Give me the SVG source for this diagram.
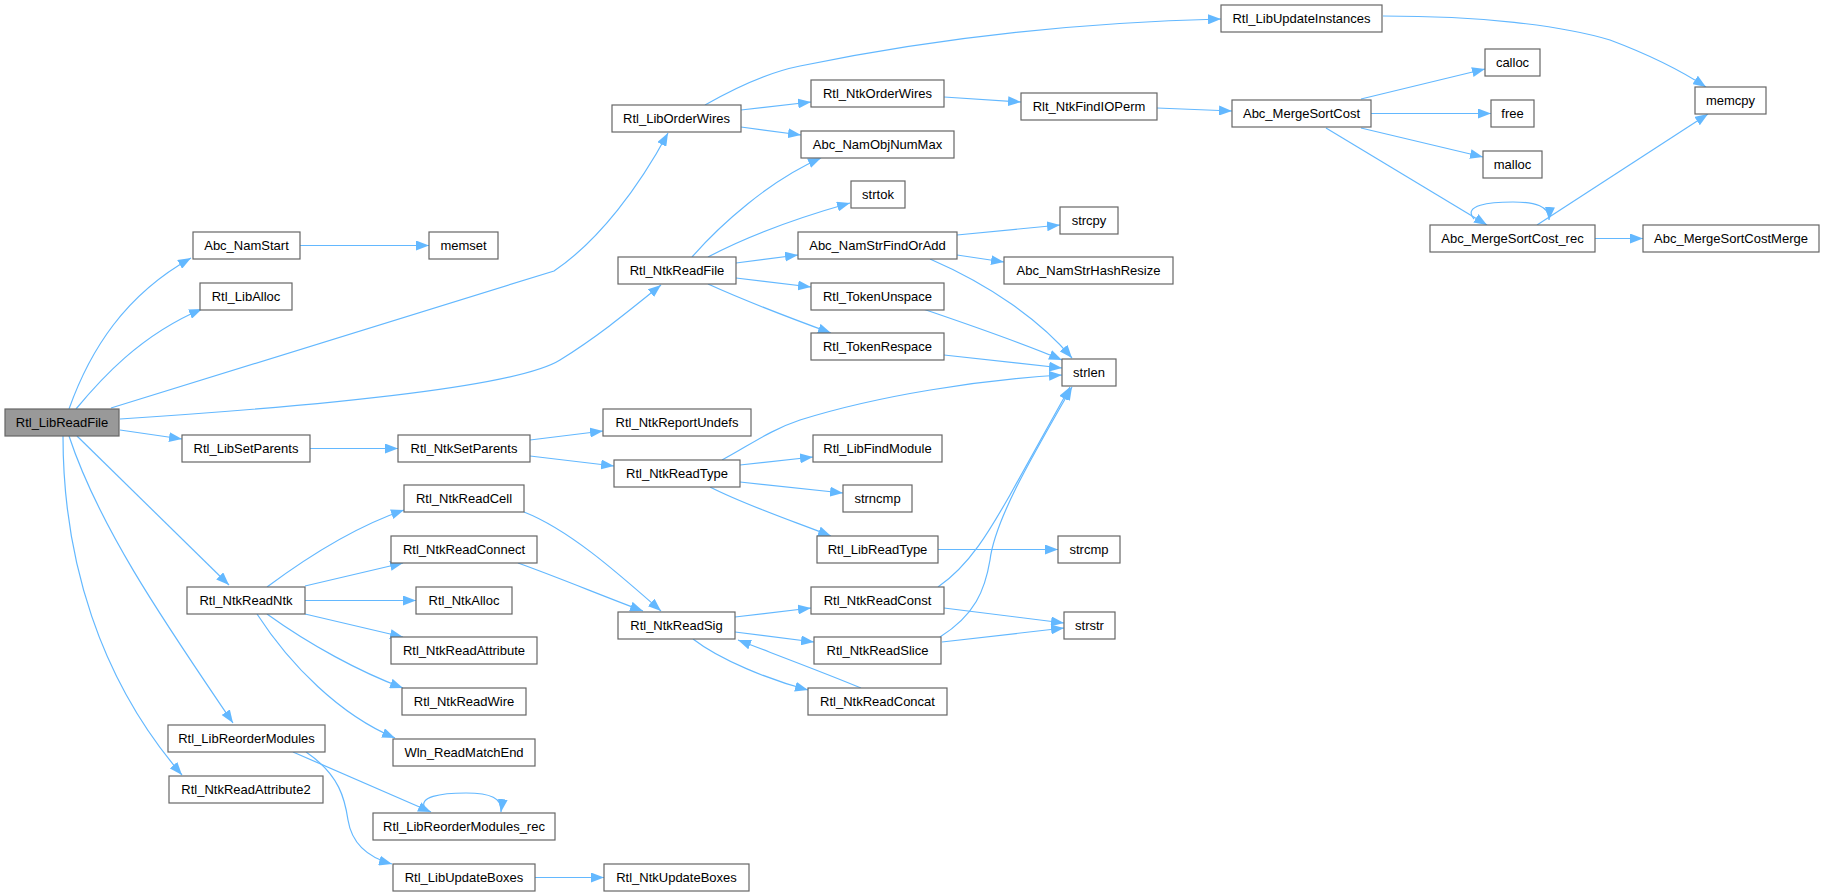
<svg xmlns="http://www.w3.org/2000/svg" width="1824" height="896" viewBox="0 0 1824 896">
<style>
.n rect{fill:#fff;stroke:#666;stroke-width:1.2}
.n text{font-family:"Liberation Sans",Arial,sans-serif;font-size:13px;fill:#000;text-anchor:middle}
#n0 rect{fill:#999}
.e path{fill:none;stroke:#63b8ff;stroke-width:1.2}
</style>
<defs>
<marker id="ah" viewBox="0 0 13 10" refX="13" refY="5" markerWidth="13" markerHeight="10" markerUnits="userSpaceOnUse" orient="auto">
<path d="M0,0 L13,5 L0,10 z" fill="#63b8ff"/>
</marker>
</defs>
<rect width="1824" height="896" fill="#fff"/>
<g class="e" marker-end="url(#ah)">
<path d="M69,409 C90,350 125,295 191,258" marker-end="url(#ah)"/>
<path d="M76,409 C100,380 140,335 202,309" marker-end="url(#ah)"/>
<path d="M111,408 L554,271 C600,240 640,185 668,133" marker-end="url(#ah)"/>
<path d="M120,419 C350,404 520,385 560,360 C600,335 630,310 661,285" marker-end="url(#ah)"/>
<path d="M120,430 L182,439" marker-end="url(#ah)"/>
<path d="M77,436 L229,585" marker-end="url(#ah)"/>
<path d="M69,436 C100,530 170,630 233,723" marker-end="url(#ah)"/>
<path d="M63,436 C63,560 100,680 182,775" marker-end="url(#ah)"/>
<path d="M300,245.5 L429,245.5" marker-end="url(#ah)"/>
<path d="M310,448.5 L398,448.5" marker-end="url(#ah)"/>
<path d="M530,440 L603,431" marker-end="url(#ah)"/>
<path d="M530,456 L614,466" marker-end="url(#ah)"/>
<path d="M267,587 C310,555 360,525 404,510" marker-end="url(#ah)"/>
<path d="M305,586 L403,563" marker-end="url(#ah)"/>
<path d="M305,600.5 L416,600.5" marker-end="url(#ah)"/>
<path d="M305,614 L403,637" marker-end="url(#ah)"/>
<path d="M267,614 C310,645 360,672 403,688" marker-end="url(#ah)"/>
<path d="M257,614 C290,665 340,715 395,738" marker-end="url(#ah)"/>
<path d="M524,512 C570,530 620,575 661,611" marker-end="url(#ah)"/>
<path d="M518,563 C560,578 600,595 643,611" marker-end="url(#ah)"/>
<path d="M293,752 L431,812" marker-end="url(#ah)"/>
<path d="M306,752 C340,775 345,800 348,820 C352,845 370,858 392,864" marker-end="url(#ah)"/>
<path d="M425,808 C418,797 440,793 466,793 C490,793 503,798 501,812" marker-end="url(#ah)"/>
<path d="M535,877.5 L604,877.5" marker-end="url(#ah)"/>
<path d="M705,105 C740,85 770,72 800,66 C950,35 1100,22 1221,19" marker-end="url(#ah)"/>
<path d="M741,110 L811,102" marker-end="url(#ah)"/>
<path d="M741,127 L801,135" marker-end="url(#ah)"/>
<path d="M944,97 L1021,102" marker-end="url(#ah)"/>
<path d="M1157,108 L1232,111" marker-end="url(#ah)"/>
<path d="M692,257 C720,225 770,180 821,158" marker-end="url(#ah)"/>
<path d="M708,257 C740,240 790,220 850,203" marker-end="url(#ah)"/>
<path d="M736,263 L798,255" marker-end="url(#ah)"/>
<path d="M736,278 L811,287" marker-end="url(#ah)"/>
<path d="M708,284 C750,303 790,318 831,333" marker-end="url(#ah)"/>
<path d="M957,235 L1060,225" marker-end="url(#ah)"/>
<path d="M957,255 L1004,262" marker-end="url(#ah)"/>
<path d="M930,259 C990,285 1040,320 1072,358" marker-end="url(#ah)"/>
<path d="M923,309 C970,325 1020,342 1062,360" marker-end="url(#ah)"/>
<path d="M944,355 L1062,368" marker-end="url(#ah)"/>
<path d="M722,460 C750,445 770,430 800,420 C880,395 980,380 1062,375" marker-end="url(#ah)"/>
<path d="M740,465 L813,457" marker-end="url(#ah)"/>
<path d="M740,482 L843,493" marker-end="url(#ah)"/>
<path d="M710,487 C745,505 790,520 831,536" marker-end="url(#ah)"/>
<path d="M938,549.5 L1058,549.5" marker-end="url(#ah)"/>
<path d="M938,587 C970,565 990,530 1010,495 L1070,387" marker-end="url(#ah)"/>
<path d="M940,637 C975,615 985,590 990,560 C995,520 1030,460 1072,387" marker-end="url(#ah)"/>
<path d="M735,617 L811,608" marker-end="url(#ah)"/>
<path d="M735,632 L814,642" marker-end="url(#ah)"/>
<path d="M693,639 C720,660 770,680 808,690" marker-end="url(#ah)"/>
<path d="M861,688 C830,675 790,660 738,640" marker-end="url(#ah)"/>
<path d="M944,608 L1064,623" marker-end="url(#ah)"/>
<path d="M942,642 L1064,628" marker-end="url(#ah)"/>
<path d="M1383,16 C1480,16 1560,25 1610,40 C1650,55 1680,70 1706,87" marker-end="url(#ah)"/>
<path d="M1361,99 L1485,69" marker-end="url(#ah)"/>
<path d="M1371,113.5 L1491,113.5" marker-end="url(#ah)"/>
<path d="M1361,128 L1483,157" marker-end="url(#ah)"/>
<path d="M1326,128 L1487,225" marker-end="url(#ah)"/>
<path d="M1474,219 C1462,205 1490,202 1513,202 C1535,202 1550,206 1549,220" marker-end="url(#ah)"/>
<path d="M1537,225 L1708,114" marker-end="url(#ah)"/>
<path d="M1595,238.5 L1643,238.5" marker-end="url(#ah)"/>
</g>
<g id="n0" class="n"><rect x="5" y="409" width="114" height="27"/><text x="62" y="427">Rtl_LibReadFile</text></g>
<g id="n1" class="n"><rect x="193" y="232" width="107" height="27"/><text x="246.5" y="250">Abc_NamStart</text></g>
<g id="n2" class="n"><rect x="429" y="232" width="69" height="27"/><text x="463.5" y="250">memset</text></g>
<g id="n3" class="n"><rect x="200" y="283" width="92" height="27"/><text x="246" y="301">Rtl_LibAlloc</text></g>
<g id="n4" class="n"><rect x="182" y="435" width="128" height="27"/><text x="246" y="453">Rtl_LibSetParents</text></g>
<g id="n5" class="n"><rect x="398" y="435" width="132" height="27"/><text x="464" y="453">Rtl_NtkSetParents</text></g>
<g id="n6" class="n"><rect x="404" y="485" width="120" height="27"/><text x="464" y="503">Rtl_NtkReadCell</text></g>
<g id="n7" class="n"><rect x="391" y="536" width="146" height="27"/><text x="464" y="554">Rtl_NtkReadConnect</text></g>
<g id="n8" class="n"><rect x="187" y="587" width="118" height="27"/><text x="246" y="605">Rtl_NtkReadNtk</text></g>
<g id="n9" class="n"><rect x="416" y="587" width="96" height="27"/><text x="464" y="605">Rtl_NtkAlloc</text></g>
<g id="n10" class="n"><rect x="391" y="637" width="146" height="27"/><text x="464" y="655">Rtl_NtkReadAttribute</text></g>
<g id="n11" class="n"><rect x="402" y="688" width="124" height="27"/><text x="464" y="706">Rtl_NtkReadWire</text></g>
<g id="n12" class="n"><rect x="393" y="739" width="142" height="27"/><text x="464" y="757">Wln_ReadMatchEnd</text></g>
<g id="n13" class="n"><rect x="168" y="725" width="157" height="27"/><text x="246.5" y="743">Rtl_LibReorderModules</text></g>
<g id="n14" class="n"><rect x="169" y="776" width="154" height="27"/><text x="246" y="794">Rtl_NtkReadAttribute2</text></g>
<g id="n15" class="n"><rect x="373" y="813" width="182" height="27"/><text x="464" y="831">Rtl_LibReorderModules_rec</text></g>
<g id="n16" class="n"><rect x="393" y="864" width="142" height="27"/><text x="464" y="882">Rtl_LibUpdateBoxes</text></g>
<g id="n17" class="n"><rect x="612" y="105" width="129" height="27"/><text x="676.5" y="123">Rtl_LibOrderWires</text></g>
<g id="n18" class="n"><rect x="618" y="257" width="118" height="27"/><text x="677" y="275">Rtl_NtkReadFile</text></g>
<g id="n19" class="n"><rect x="603" y="409" width="148" height="27"/><text x="677" y="427">Rtl_NtkReportUndefs</text></g>
<g id="n20" class="n"><rect x="614" y="460" width="126" height="27"/><text x="677" y="478">Rtl_NtkReadType</text></g>
<g id="n21" class="n"><rect x="618" y="612" width="117" height="27"/><text x="676.5" y="630">Rtl_NtkReadSig</text></g>
<g id="n22" class="n"><rect x="604" y="864" width="145" height="27"/><text x="676.5" y="882">Rtl_NtkUpdateBoxes</text></g>
<g id="n23" class="n"><rect x="811" y="80" width="133" height="27"/><text x="877.5" y="98">Rtl_NtkOrderWires</text></g>
<g id="n24" class="n"><rect x="801" y="131" width="153" height="27"/><text x="877.5" y="149">Abc_NamObjNumMax</text></g>
<g id="n25" class="n"><rect x="851" y="181" width="54" height="27"/><text x="878" y="199">strtok</text></g>
<g id="n26" class="n"><rect x="798" y="232" width="159" height="27"/><text x="877.5" y="250">Abc_NamStrFindOrAdd</text></g>
<g id="n27" class="n"><rect x="811" y="283" width="133" height="27"/><text x="877.5" y="301">Rtl_TokenUnspace</text></g>
<g id="n28" class="n"><rect x="811" y="333" width="133" height="27"/><text x="877.5" y="351">Rtl_TokenRespace</text></g>
<g id="n29" class="n"><rect x="813" y="435" width="129" height="27"/><text x="877.5" y="453">Rtl_LibFindModule</text></g>
<g id="n30" class="n"><rect x="843" y="485" width="69" height="27"/><text x="877.5" y="503">strncmp</text></g>
<g id="n31" class="n"><rect x="817" y="536" width="121" height="27"/><text x="877.5" y="554">Rtl_LibReadType</text></g>
<g id="n32" class="n"><rect x="811" y="587" width="133" height="27"/><text x="877.5" y="605">Rtl_NtkReadConst</text></g>
<g id="n33" class="n"><rect x="814" y="637" width="127" height="27"/><text x="877.5" y="655">Rtl_NtkReadSlice</text></g>
<g id="n34" class="n"><rect x="808" y="688" width="139" height="27"/><text x="877.5" y="706">Rtl_NtkReadConcat</text></g>
<g id="n35" class="n"><rect x="1021" y="93" width="136" height="27"/><text x="1089" y="111">Rlt_NtkFindIOPerm</text></g>
<g id="n36" class="n"><rect x="1060" y="207" width="58" height="27"/><text x="1089" y="225">strcpy</text></g>
<g id="n37" class="n"><rect x="1004" y="257" width="169" height="27"/><text x="1088.5" y="275">Abc_NamStrHashResize</text></g>
<g id="n38" class="n"><rect x="1062" y="359" width="54" height="27"/><text x="1089" y="377">strlen</text></g>
<g id="n39" class="n"><rect x="1058" y="536" width="62" height="27"/><text x="1089" y="554">strcmp</text></g>
<g id="n40" class="n"><rect x="1064" y="612" width="51" height="27"/><text x="1089.5" y="630">strstr</text></g>
<g id="n41" class="n"><rect x="1221" y="5" width="161" height="27"/><text x="1301.5" y="23">Rtl_LibUpdateInstances</text></g>
<g id="n42" class="n"><rect x="1232" y="100" width="139" height="27"/><text x="1301.5" y="118">Abc_MergeSortCost</text></g>
<g id="n43" class="n"><rect x="1485" y="49" width="55" height="27"/><text x="1512.5" y="67">calloc</text></g>
<g id="n44" class="n"><rect x="1491" y="100" width="43" height="27"/><text x="1512.5" y="118">free</text></g>
<g id="n45" class="n"><rect x="1483" y="151" width="59" height="27"/><text x="1512.5" y="169">malloc</text></g>
<g id="n46" class="n"><rect x="1430" y="225" width="165" height="27"/><text x="1512.5" y="243">Abc_MergeSortCost_rec</text></g>
<g id="n47" class="n"><rect x="1695" y="87" width="71" height="27"/><text x="1730.5" y="105">memcpy</text></g>
<g id="n48" class="n"><rect x="1643" y="225" width="176" height="27"/><text x="1731" y="243">Abc_MergeSortCostMerge</text></g>
</svg>
